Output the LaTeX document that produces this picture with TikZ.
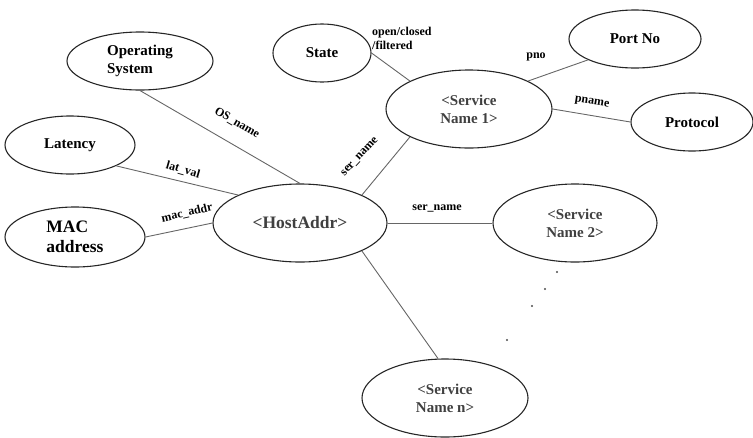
\documentclass[tikz,border=0pt]{standalone}
\usepackage{fontspec}
\setmainfont{Liberation Serif}
\usetikzlibrary{shapes.geometric}
\begin{document}
\begin{tikzpicture}[x=1pt,y=-1pt,
ent/.style={draw=black!85,line width=1.1pt,ellipse,inner sep=0pt,font=\bfseries\fontsize{15}{18}\selectfont},
key/.style={ent,text=black!75,align=center},
lnk/.style={draw=black!60,line width=0.9pt},
lbl/.style={font=\bfseries\fontsize{12}{14}\selectfont,inner sep=0pt}]
\pgfmathsetmacro{\kry}{29}
\pgfmathsetmacro{\ksry}{39}
\useasboundingbox(0,0)rectangle(753,437);
\foreach \nm/\x/\y/\rx/\al/\txt in {os/140/61/73/left/{Operating\\System},state/322/53/49/center/State,lat/70/145/65/center/Latency,port/635/39/66/center/Port No,proto/692/122/61/center/Protocol}{\node[ent,align=\al,minimum width=2*\rx,minimum height=2*\kry](\nm)at(\x,\y){\txt};}
\node[ent,align=left,font=\bfseries\fontsize{17.5}{20}\selectfont,minimum width=140,minimum height=60](mac)at(75,237){MAC\\address};
\node[key,font=\bfseries\fontsize{17.5}{20}\selectfont,minimum width=174,minimum height=2*\ksry](host)at(300,223){<HostAddr>};
\foreach \nm/\x/\y/\rx/\txt in {sn1/469/109/83/1,sn2/575/223/82/2,snn/445/398/83/n}{\node[key,minimum width=2*\rx,minimum height=2*\ksry](\nm)at(\x,\y){<Service\\Name \txt>};}
%\node[key](sn3)at(520,320){<Service\\Name 3>};
\foreach \a/\b in {os.south/host.north,lat.south east/host.north west,mac.east/host.west,host.north east/sn1.south west,state.east/sn1.north west,sn1.north east/port.south west,sn1.east/proto.west,host.east/sn2.west,host.south east/snn.100}{\draw[lnk](\a)--(\b);}
\node[lbl,rotate=-30](osl)at(237,123){OS\_name};
\node[lbl,rotate=-16](latl)at(183,170){lat\_val};
\node[lbl,rotate=13](macl)at(187,213){mac\_addr};
\node[lbl,rotate=47](ser1l)at(360,157){ser\_name};
\node[lbl](ser2l)at(437,208){ser\_name};
\node[lbl](pnol)at(536,57){pno};
\node[lbl,rotate=-9](pnamel)at(592,103){pname};
\node[lbl,align=left,anchor=north west](statel)at(372,27){open/closed\\/filtered};
\foreach \x/\y in {557/272,545/289,532/306,507/340}{\fill[black!70](\x,\y)circle(1.1pt);}
\end{tikzpicture}
\end{document}
